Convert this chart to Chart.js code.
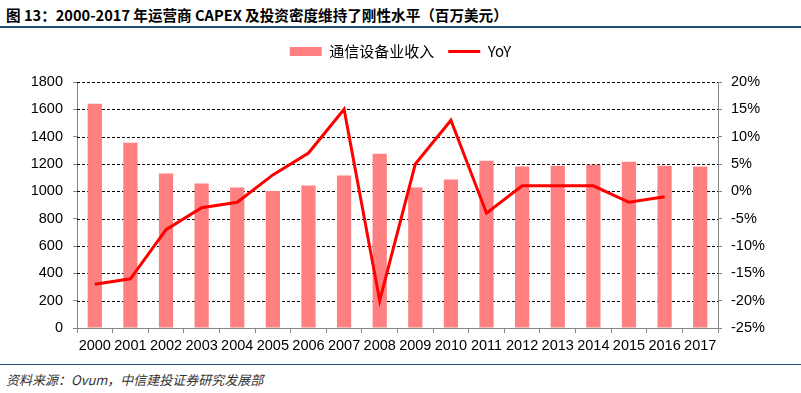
<!DOCTYPE html>
<html>
<head>
<meta charset="utf-8">
<script src="https://cdn.jsdelivr.net/npm/chart.js@4"></script>
<style>
  body { margin: 0; width: 801px; height: 393px; background: #fff; position: relative; overflow: hidden; }
  #title { position: absolute; left: 6px; top: 4px; font: bold 14.6px "Noto Sans CJK SC", sans-serif; color: #000; white-space: nowrap; }
  #topline { position: absolute; left: 0; top: 26px; width: 801px; height: 2px; background: #1f4e79; }
  #wrap { position: absolute; left: 0; top: 30px; width: 801px; height: 332px; }
  #botline { position: absolute; left: 0; top: 364px; width: 801px; height: 1px; background: #1f4e79; }
  #source { position: absolute; left: 6px; top: 370px; font: italic 13px "Noto Sans CJK SC", sans-serif; color: #333; white-space: nowrap; }
</style>
</head>
<body>
<div id="title">图 13：2000-2017 年运营商 CAPEX 及投资密度维持了刚性水平（百万美元）</div>
<div id="topline"></div>
<div id="wrap"><canvas id="chart"></canvas></div>
<div id="botline"></div>
<div id="source">资料来源：Ovum，中信建投证券研究发展部</div>
<script>
// Chart data
const years = ['2000', '2001', '2002', '2003', '2004', '2005', '2006', '2007', '2008',
               '2009', '2010', '2011', '2012', '2013', '2014', '2015', '2016', '2017'];
const revenue = [1640, 1355, 1130, 1057, 1028, 1003, 1042, 1115, 1275,
                 1028, 1086, 1224, 1181, 1188, 1195, 1217, 1188, 1181];
const yoy = [-17, -16, -7, -3, -2, 3, 7, 15, -20, 5, 13, -4, 1, 1, 1, -2, -1, null];

const tickFont = { family: '"Liberation Sans", Arial, sans-serif', size: 14.5 };
const axisGrey = '#868686';

const ctx = document.getElementById('chart');

new Chart(ctx, {
    data: {
        labels: years,
        datasets: [{
            type: 'line',
            label: 'YoY',
            data: yoy,
            yAxisID: 'y1',
            borderColor: '#ff0000',
            borderWidth: 3,
            tension: 0,
            pointRadius: 0,
            pointStyle: 'line',
            order: 0
        }, {
            type: 'bar',
            label: '通信设备业收入',
            data: revenue,
            yAxisID: 'y',
            backgroundColor: '#ff8080',
            borderWidth: 0,
            barPercentage: 0.4,
            categoryPercentage: 1,
            pointStyle: 'rect',
            order: 1
        }]
    },
    options: {
        responsive: true,
        maintainAspectRatio: false,
        animation: false,
        layout: { padding: 0 },
        plugins: {
            legend: {
                reverse: true,
                labels: {
                    usePointStyle: true,
                    pointStyleWidth: 32,
                    boxWidth: 32,
                    boxHeight: 9,
                    padding: 14,
                    color: '#000',
                    font: { family: '"Noto Sans CJK SC", sans-serif', size: 15 }
                }
            },
            tooltip: { enabled: false }
        },
        scales: {
            x: {
                grid: {
                    offset: true,
                    drawOnChartArea: false,
                    tickLength: 5,
                    tickColor: axisGrey
                },
                border: { color: axisGrey, width: 1 },
                ticks: { color: '#000', font: tickFont, maxRotation: 0, autoSkip: false, padding: 4 },
                afterFit: (scale) => { scale.height = 34; }
            },
            y: {
                position: 'left',
                min: 0,
                max: 1800,
                ticks: {
                    stepSize: 200,
                    color: '#000',
                    font: tickFont,
                    padding: 10,
                    callback: (v) => String(v)
                },
                grid: { drawOnChartArea: false, tickColor: axisGrey, tickLength: 4 },
                border: { color: axisGrey, width: 1 },
                afterFit: (scale) => { scale.width = 77; }
            },
            y1: {
                position: 'right',
                min: -25,
                max: 20,
                ticks: {
                    stepSize: 5,
                    color: '#000',
                    font: tickFont,
                    padding: 9,
                    callback: (v) => v + '%'
                },
                grid: { drawOnChartArea: false, tickColor: axisGrey, tickLength: 4 },
                border: { color: axisGrey, width: 1 },
                afterFit: (scale) => { scale.width = 83; }
            }
        }
    },
    plugins: [{
        // leave more room between legend and plot
        id: 'legendGap',
        beforeInit(chart) {
            const legend = chart.legend;
            if (!legend) return;
            const fit = legend.fit;
            legend.fit = function () {
                fit.call(this);
                this.height += 13;
            };
        }
    }, {
        // dashed horizontal gridlines for the left axis
        id: 'dashGrid',
        beforeDatasetsDraw(chart) {
            const y = chart.scales.y;
            const area = chart.chartArea;
            const c = chart.ctx;
            c.save();
            c.strokeStyle = '#000';
            c.lineWidth = 1;
            c.setLineDash([3, 2]);
            y.ticks.forEach(t => {
                if (t.value === 0) return;
                const py = Math.round(y.getPixelForValue(t.value)) + 0.5;
                c.beginPath();
                c.moveTo(area.left, py);
                c.lineTo(area.right, py);
                c.stroke();
            });
            c.restore();
        }
    }]
});
</script>
</body>
</html>
